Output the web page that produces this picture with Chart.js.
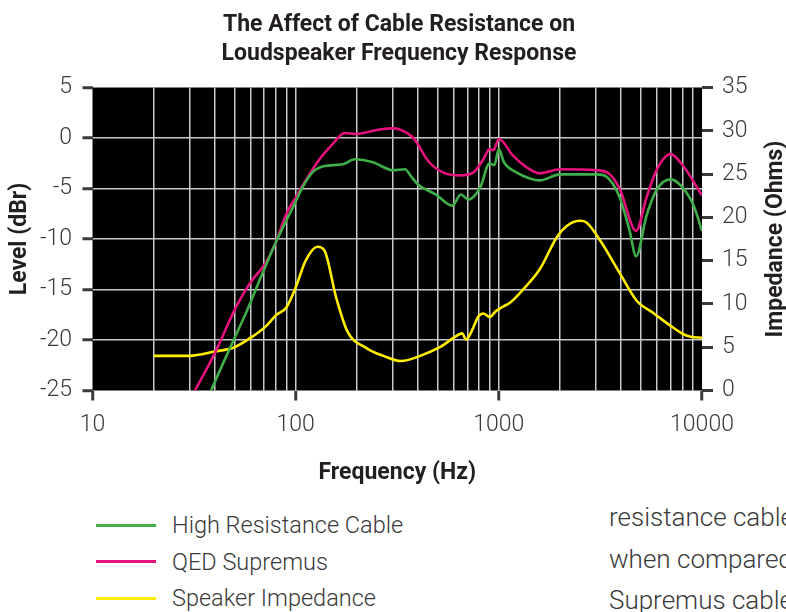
<!DOCTYPE html>
<html>
<head>
<meta charset="utf-8">
<script src="https://cdn.jsdelivr.net/npm/chart.js@4.4.1/dist/chart.umd.min.js"></script>
<style>
  html, body { margin: 0; padding: 0; background: #fff; width: 786px; height: 612px; overflow: hidden; }
  #wrap { position: relative; width: 786px; height: 612px; overflow: hidden; font-family: Roboto, 'Open Sans', sans-serif; }
  #grafico { position: absolute; left: 0; top: 0; }
  .leyenda { position: absolute; left: 96px; top: 507px; }
  .fila { display: flex; align-items: center; height: 36.5px; font-size: 23.5px; font-weight: 300; color: #3a3a3a; white-space: nowrap; }
  .fila span.linea { display: inline-block; width: 60px; height: 3px; margin-right: 16px; }
  .texto-lado { position: absolute; left: 609px; top: 497px; font-size: 26px; font-weight: 300; color: #3a3a3a; line-height: 41.5px; white-space: nowrap; }
</style>
</head>
<body>
<div id="wrap">
  <canvas id="grafico" width="786" height="495"></canvas>
  <div class="leyenda">
    <div class="fila"><span class="linea" style="background:#3fae49"></span>High Resistance Cable</div>
    <div class="fila"><span class="linea" style="background:#e5127d"></span>QED Supremus</div>
    <div class="fila"><span class="linea" style="background:#ffed00"></span>Speaker Impedance</div>
  </div>
  <div class="texto-lado">resistance cable<br>when compared<br>Supremus cable</div>
</div>
<script>
// --- DATOS ---
// High Resistance Cable (Hz / dBr)
const hrcFreq  = [35, 38, 49, 57, 69, 80, 94, 100, 108, 121, 137, 171, 195, 240, 302, 345, 370, 400, 490, 590, 650, 710, 810, 900, 950, 1000, 1060, 1220, 1420, 1590, 2000, 3050, 3370, 3900, 4380, 4740, 5330, 6000, 7000, 7850, 9100, 10000];
const hrcLevel = [-27, -25.2, -20.2, -17.3, -13.3, -10.3, -7.4, -6.3, -4.9, -3.4, -2.8, -2.6, -2.1, -2.4, -3.2, -3.1, -3.8, -4.6, -5.6, -6.7, -5.6, -6.1, -4.9, -2.5, -2.7, -1.1, -2.4, -3.4, -4.0, -4.2, -3.6, -3.6, -3.8, -5.7, -9.0, -11.7, -7.7, -5.1, -4.1, -4.7, -6.7, -9.2];

// QED Supremus (Hz / dBr)
const qedFreq  = [29, 31.6, 40, 51, 59, 72, 80, 90, 100, 112, 131, 152, 174, 198, 260, 300, 325, 380, 450, 530, 640, 750, 840, 900, 940, 1000, 1180, 1370, 1590, 2000, 3050, 3520, 3950, 4740, 5330, 6000, 7000, 8100, 10000];
const qedLevel = [-26.7, -25.2, -21.3, -16.7, -14.5, -12.2, -10.3, -7.5, -5.9, -4.2, -2.1, -0.6, 0.5, 0.4, 0.85, 0.95, 0.85, 0.0, -2.3, -3.4, -3.7, -3.4, -2.1, -1.1, -1.2, -0.1, -1.8, -2.9, -3.5, -3.1, -3.2, -3.6, -5.1, -9.2, -5.9, -3.1, -1.6, -2.8, -5.7];

// Speaker Impedance (Hz / Ohms)
const impFreq = [20, 30, 40, 50, 61, 72, 80, 90, 100, 112, 128, 139, 158, 180, 223, 270, 330, 410, 512, 640, 660, 690, 740, 790, 840, 900, 970, 1050, 1130, 1320, 1590, 1930, 2160, 2510, 2700, 3160, 3950, 4760, 5800, 6980, 8100, 8800, 10000];
const impOhms = [4.0, 4.0, 4.5, 5.0, 6.2, 7.5, 8.7, 9.6, 11.9, 15.0, 16.6, 16.1, 10.8, 6.8, 4.9, 4.0, 3.4, 4.0, 5.0, 6.5, 6.6, 5.9, 7.0, 8.5, 8.9, 8.5, 9.2, 9.7, 10.1, 11.7, 14.0, 17.7, 19.0, 19.6, 19.4, 17.3, 13.5, 10.4, 8.9, 7.5, 6.5, 6.2, 6.1];

// Ejes
const freqGrid   = [10, 20, 30, 40, 50, 60, 70, 80, 90, 100, 200, 300, 400, 500, 600, 700, 800, 900, 1000, 2000, 3000, 4000, 5000, 6000, 7000, 8000, 9000, 10000];
const freqLabels = [10, 100, 1000, 10000];
const levelTicks = [5, 0, -5, -10, -15, -20, -25];
const ohmTicks   = [35, 30, 25, 20, 15, 10, 5, 0];

const COLOR_TEXTO = '#3a3a3a';
const COLOR_TITULO = '#231f20';
const COLOR_GRID = '#c8c8c8';
const TRANSPARENTE = 'rgba(0,0,0,0)';

function aPuntos(xs, ys) {
    return xs.map((x, i) => ({ x: x, y: ys[i] }));
}

// Fondo negro del area de trazado
const fondoNegro = {
    id: 'fondoNegro',
    beforeDraw(chart) {
        const { ctx, chartArea: a } = chart;
        ctx.save();
        ctx.fillStyle = '#000';
        ctx.fillRect(a.left, a.top, a.right - a.left, a.bottom - a.top);
        ctx.restore();
    }
};

// Titulo del eje derecho (leido de abajo hacia arriba)
const tituloDerecho = {
    id: 'tituloDerecho',
    afterDraw(chart) {
        const { ctx, chartArea: a } = chart;
        ctx.save();
        ctx.translate(776, (a.top + a.bottom) / 2);
        ctx.rotate(-Math.PI / 2);
        ctx.fillStyle = COLOR_TITULO;
        ctx.font = "bold 23px Roboto, 'Open Sans', sans-serif";
        ctx.textAlign = 'center';
        ctx.textBaseline = 'middle';
        ctx.fillText('Impedance (Ohms)', 0, 0);
        ctx.restore();
    }
};

Chart.defaults.font.family = "Roboto, 'Open Sans', sans-serif";

const ctx = document.getElementById('grafico').getContext('2d');
new Chart(ctx, {
    type: 'line',
    data: {
        datasets: [{
            label: 'High Resistance Cable',
            data: aPuntos(hrcFreq, hrcLevel),
            borderColor: '#3fae49',
            yAxisID: 'y'
        }, {
            label: 'QED Supremus',
            data: aPuntos(qedFreq, qedLevel),
            borderColor: '#e5127d',
            yAxisID: 'y'
        }, {
            label: 'Speaker Impedance',
            data: aPuntos(impFreq, impOhms),
            borderColor: '#ffed00',
            yAxisID: 'y1'
        }]
    },
    options: {
        responsive: false,
        animation: false,
        layout: { padding: { left: 12 } },
        elements: {
            point: { radius: 0 },
            line: { borderWidth: 2.6, cubicInterpolationMode: 'monotone' }
        },
        scales: {
            x: {
                type: 'logarithmic',
                min: 10,
                max: 10000,
                afterBuildTicks: s => { s.ticks = freqGrid.map(v => ({ value: v })); },
                afterFit: s => { s.height = 104.5; },
                border: { display: false },
                grid: {
                    color: c => (c.tick && (c.tick.value === 10 || c.tick.value === 10000)) ? TRANSPARENTE : COLOR_GRID,
                    lineWidth: 1.5,
                    tickColor: c => (c.tick && freqLabels.includes(c.tick.value)) ? COLOR_TEXTO : TRANSPARENTE,
                    tickLength: 10,
                    tickWidth: 3
                },
                ticks: {
                    autoSkip: false,
                    maxRotation: 0,
                    padding: 11,
                    color: COLOR_TEXTO,
                    font: { size: 23, weight: 300 },
                    callback: v => freqLabels.includes(v) ? String(v) : ''
                },
                title: {
                    display: true,
                    text: 'Frequency (Hz)',
                    color: COLOR_TITULO,
                    font: { size: 23, weight: 'bold' },
                    padding: { top: 0, bottom: 8 }
                }
            },
            y: {
                position: 'left',
                min: -25,
                max: 5,
                afterBuildTicks: s => { s.ticks = levelTicks.map(v => ({ value: v })); },
                afterFit: s => { s.width = 80.5; },
                border: { display: false },
                grid: {
                    color: c => (c.tick && (c.tick.value === 5 || c.tick.value === -25)) ? TRANSPARENTE : COLOR_GRID,
                    lineWidth: 1.5,
                    tickColor: COLOR_TEXTO,
                    tickLength: 10,
                    tickWidth: 3
                },
                ticks: {
                    padding: 10.5,
                    color: COLOR_TEXTO,
                    font: { size: 23, weight: 300 }
                },
                title: {
                    display: true,
                    text: 'Level (dBr)',
                    color: COLOR_TITULO,
                    font: { size: 23, weight: 'bold' },
                    padding: { top: -5.8, bottom: 0 }
                }
            },
            y1: {
                position: 'right',
                min: 0,
                max: 35,
                afterBuildTicks: s => { s.ticks = ohmTicks.map(v => ({ value: v })); },
                afterFit: s => { s.width = 84; },
                border: { display: false },
                grid: {
                    drawOnChartArea: false,
                    tickColor: COLOR_TEXTO,
                    tickLength: 11,
                    tickWidth: 3
                },
                ticks: {
                    padding: 9,
                    color: COLOR_TEXTO,
                    font: { size: 23, weight: 300 }
                }
            }
        },
        plugins: {
            legend: { display: false },
            tooltip: { enabled: false },
            title: {
                display: true,
                text: ['The Affect of Cable Resistance on', 'Loudspeaker Frequency Response'],
                color: COLOR_TITULO,
                font: { size: 23, weight: 'bold', lineHeight: 29 / 23 },
                padding: { top: 10.5, bottom: 19 }
            }
        }
    },
    plugins: [fondoNegro, tituloDerecho]
});
</script>
</body>
</html>
